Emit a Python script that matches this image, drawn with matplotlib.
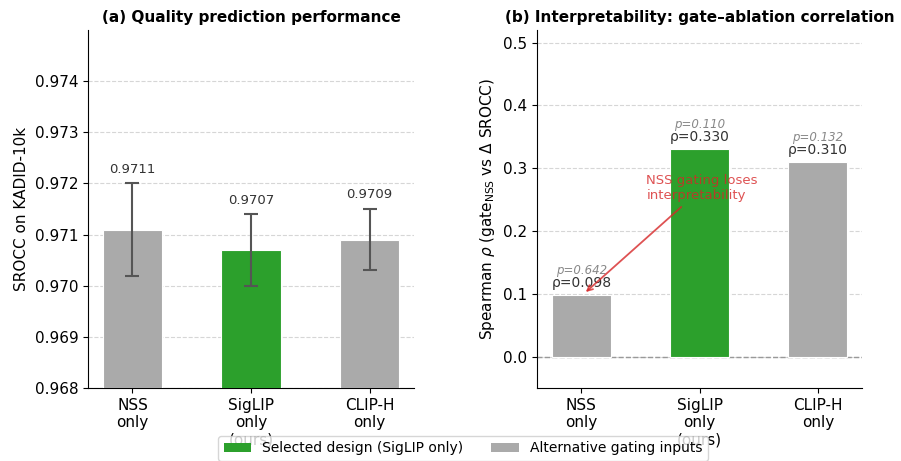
import matplotlib
matplotlib.use('Agg')
import matplotlib.pyplot as plt
import numpy as np
from matplotlib.patches import Patch

plt.rcParams['font.family'] = ['DejaVu Sans']

labels = ['NSS\nonly', 'SigLIP\nonly\n(ours)', 'CLIP-H\nonly']
srocc = [0.9711, 0.9707, 0.9709]
srocc_err = [0.0009, 0.0007, 0.0006]
rho = [0.098, 0.330, 0.310]
pvals = [0.642, 0.110, 0.132]
selected = [False, True, False]

GREEN = '#2ca02c'
GRAY = '#aaaaaa'
colors = [GREEN if s else GRAY for s in selected]
x = np.arange(len(labels))

fig = plt.figure(figsize=(9.01, 4.61), dpi=100)
ax1 = fig.add_axes([0.0977, 0.158, 0.3618, 0.777])
ax2 = fig.add_axes([0.596, 0.158, 0.361, 0.777])

# %% (a) quality
ax1.bar(x, srocc, width=0.5, color=colors, edgecolor='white', linewidth=0.8,
        yerr=srocc_err, capsize=5, error_kw=dict(ecolor='#555555', elinewidth=1.5, capthick=1.5),
        zorder=3)
for xi, v, e in zip(x, srocc, srocc_err):
    ax1.text(xi, v + e + 0.00015, f'{v:.4f}', ha='center', va='bottom',
             fontsize=9.5, color='#333333')
ax1.set_ylim(0.968, 0.975)
ax1.set_yticks(np.arange(0.968, 0.9745, 0.001))
ax1.set_ylabel('SROCC on KADID-10k', fontsize=11)
ax1.set_title('(a) Quality prediction performance', fontsize=11, fontweight='bold')

# %% (b) interpretability
ax2.bar(x, rho, width=0.5, color=colors, edgecolor='white', linewidth=0.8, zorder=3)
ax2.axhline(0, color='#999999', linestyle='--', linewidth=1, zorder=2)
for xi, r, p in zip(x, rho, pvals):
    ax2.text(xi, r + 0.008, f'ρ={r:.3f}', ha='center', va='bottom', fontsize=10, color='#333333')
    ax2.text(xi, r + 0.029, f'p={p:.3f}', ha='center', va='bottom', fontsize=8.5,
             color='#888888', style='italic')
ax2.annotate('NSS gating loses\ninterpretability', xy=(0.02, 0.100), xytext=(0.55, 0.268),
             ha='left', va='center', fontsize=9.5, color='#d62728', alpha=0.8,
             arrowprops=dict(arrowstyle='->', color='#d62728', alpha=0.8, lw=1.3))
ax2.set_ylim(-0.05, 0.52)
ax2.set_yticks(np.arange(0, 0.51, 0.1))
ax2.set_ylabel(r'Spearman $\rho$ (gate$_{\mathrm{NSS}}$ vs $\Delta$ SROCC)', fontsize=11)
ax2.set_title('(b) Interpretability: gate–ablation correlation', fontsize=11,
              fontweight='bold')

for ax in (ax1, ax2):
    ax.set_xticks(x)
    ax.set_xticklabels(labels, fontsize=11)
    ax.tick_params(axis='y', labelsize=11)
    ax.spines['top'].set_visible(False)
    ax.spines['right'].set_visible(False)
    ax.yaxis.grid(True, linestyle='--', color='#cccccc', alpha=0.8, zorder=0)
    ax.set_axisbelow(True)

handles = [Patch(facecolor=GREEN, label='Selected design (SigLIP only)'),
           Patch(facecolor=GRAY, label='Alternative gating inputs')]
fig.legend(handles=handles, loc='lower center', ncol=2, fontsize=10,
           bbox_to_anchor=(0.514, -0.015), frameon=True)

fig.savefig('out.png', dpi=100, facecolor='white')
